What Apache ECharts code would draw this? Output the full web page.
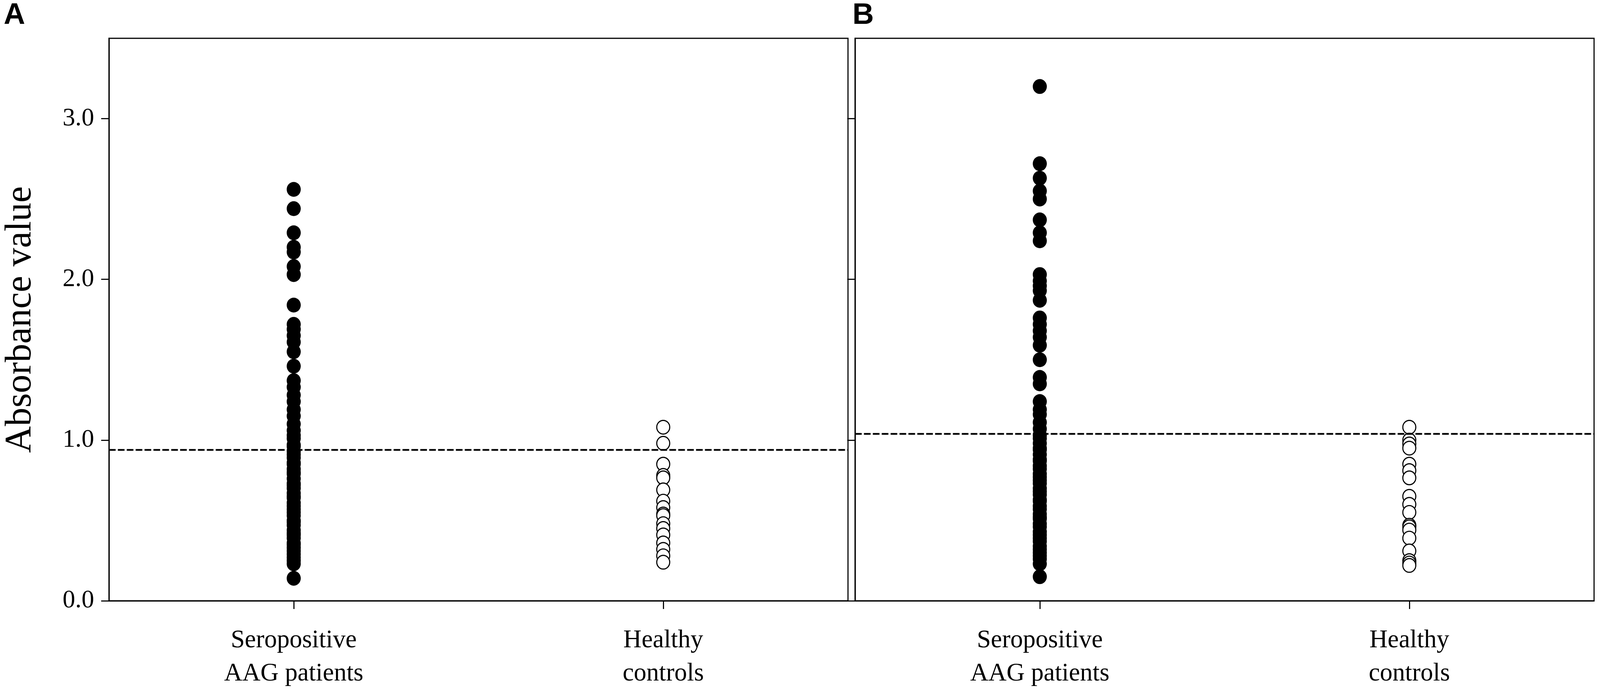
<!DOCTYPE html>
<html>
<head>
<meta charset="utf-8">
<script src="https://cdn.jsdelivr.net/npm/echarts@6/dist/echarts.min.js"></script>
<style>
html,body{margin:0;padding:0;background:#fff;overflow:hidden;}
#chart{width:100vw;height:100vh;}
</style>
</head>
<body>
<div id="chart"></div>
<script>
// ---- data ----
const categories = ['Seropositive\nAAG patients', 'Healthy\ncontrols'];
const yTickValues = [0, 1, 2, 3];
const panelLabels = ['A', 'B'];
const yAxisTitle = 'Absorbance value';

const cutoffA = 0.944;
const cutoffB = 1.04;

const seroA = [2.56, 2.44, 2.29, 2.20, 2.17, 2.08, 2.03, 1.84, 1.72, 1.69, 1.65, 1.61,
  1.55, 1.46, 1.37, 1.33, 1.28, 1.24, 1.19, 1.15, 1.10, 1.06,
  1.03, 1.01, 0.97, 0.96, 0.93, 0.91, 0.89, 0.86, 0.85, 0.82, 0.80, 0.79, 0.76, 0.73,
  0.72, 0.70, 0.67, 0.65, 0.64, 0.61, 0.59, 0.57, 0.55, 0.53, 0.50, 0.49, 0.47, 0.44,
  0.42, 0.41, 0.39, 0.36, 0.35, 0.33, 0.31, 0.29, 0.27, 0.25, 0.23, 0.14];

const healthyA = [1.08, 0.98, 0.85, 0.78, 0.765, 0.69, 0.62, 0.58, 0.54, 0.53, 0.48,
  0.45, 0.41, 0.36, 0.32, 0.28, 0.24];

const seroB = [3.20, 2.72, 2.63, 2.55, 2.50, 2.37, 2.29, 2.24, 2.03, 1.99, 1.96, 1.93,
  1.87, 1.76, 1.72, 1.68, 1.64, 1.59, 1.50, 1.39, 1.35, 1.24, 1.19, 1.16, 1.11, 1.07,
  1.03, 1.01, 0.98, 0.95, 0.94, 0.91, 0.88, 0.87, 0.84, 0.82, 0.79, 0.77, 0.75, 0.73,
  0.70, 0.68, 0.66, 0.63, 0.62, 0.59, 0.57, 0.54, 0.52, 0.51, 0.48, 0.46, 0.43, 0.41,
  0.39, 0.37, 0.34, 0.32, 0.30, 0.28, 0.26, 0.23, 0.15];

const healthyB = [1.08, 1.00, 0.976, 0.95, 0.85, 0.81, 0.765, 0.65, 0.60, 0.55, 0.47,
  0.46, 0.44, 0.39, 0.31, 0.25, 0.235, 0.22];

// ---- chart ----
const el = document.getElementById('chart');
const W = el.clientWidth || window.innerWidth;
const H = el.clientHeight || window.innerHeight;
// layout was measured on a 4317 x 1778 canvas; scale to the real viewport
const sx = W / 4317, sy = H / 1778;
const s = Math.min(sx, sy);
const px = v => v * sx;
const py = v => v * sy;
const ps = v => v * s;
const serif = 'Liberation Serif';
const chart = echarts.init(el);

function pairs(cat, vals) { return vals.map(v => [cat, v]); }

function xAxisCfg(idx) {
  return {
    type: 'category', gridIndex: idx, data: categories, boundaryGap: true,
    axisLine: { show: true, lineStyle: { color: '#000', width: ps(3) } },
    axisTick: { show: true, alignWithLabel: true, length: py(21), lineStyle: { color: '#000', width: ps(3) } },
    axisLabel: { color: '#000', fontFamily: serif, fontSize: ps(68), lineHeight: py(85), margin: py(60) },
    splitLine: { show: false }
  };
}
function yAxisCfg(idx, showLabels) {
  const cfg = {
    type: 'value', gridIndex: idx, min: 0, max: 3.5, interval: 1,
    axisLine: { show: true, lineStyle: { color: '#000', width: ps(3) } },
    axisTick: { show: true, length: px(21), customValues: yTickValues, lineStyle: { color: '#000', width: ps(3) } },
    axisLabel: { show: showLabels, customValues: yTickValues, color: '#000', fontFamily: serif,
      fontSize: ps(68), margin: px(40), formatter: v => v.toFixed(1) },
    splitLine: { show: false }
  };
  if (showLabels) {
    cfg.name = yAxisTitle;
    cfg.nameLocation = 'middle';
    cfg.nameGap = px(188);
    cfg.nameTextStyle = { color: '#000', fontFamily: serif, fontSize: ps(100) };
  }
  return cfg;
}
function cutoffLine(v) {
  return {
    silent: true, symbol: 'none', label: { show: false },
    lineStyle: { color: '#000', width: ps(4.5), type: [px(18), px(6)], opacity: 1 },
    data: [{ yAxis: v }]
  };
}
const filled = { symbol: 'circle', symbolSize: [px(38), py(38)], itemStyle: { color: '#000', opacity: 1 } };
const open = { symbol: 'circle', symbolSize: [px(35), py(35)], itemStyle: { color: '#fff', borderColor: '#000', borderWidth: ps(3), opacity: 1 } };

chart.setOption({
  backgroundColor: '#fff',
  animation: false,
  grid: [
    { left: px(294), right: px(2029), top: py(98), bottom: py(241), show: true, borderColor: '#000', borderWidth: ps(3) },
    { left: px(2307), right: px(16), top: py(98), bottom: py(241), show: true, borderColor: '#000', borderWidth: ps(3) }
  ],
  xAxis: [xAxisCfg(0), xAxisCfg(1)],
  yAxis: [yAxisCfg(0, true), yAxisCfg(1, false)],
  graphic: [
    { type: 'text', left: px(10), top: py(2), style: { text: panelLabels[0], fontFamily: 'Liberation Sans', fontWeight: 'bold', fontSize: ps(80), fill: '#000' } },
    { type: 'text', left: px(2300), top: py(2), style: { text: panelLabels[1], fontFamily: 'Liberation Sans', fontWeight: 'bold', fontSize: ps(80), fill: '#000' } }
  ],
  series: [
    Object.assign({ type: 'scatter', xAxisIndex: 0, yAxisIndex: 0, data: pairs(categories[0], seroA), markLine: cutoffLine(cutoffA) }, filled),
    Object.assign({ type: 'scatter', xAxisIndex: 0, yAxisIndex: 0, data: pairs(categories[1], healthyA) }, open),
    Object.assign({ type: 'scatter', xAxisIndex: 1, yAxisIndex: 1, data: pairs(categories[0], seroB), markLine: cutoffLine(cutoffB) }, filled),
    Object.assign({ type: 'scatter', xAxisIndex: 1, yAxisIndex: 1, data: pairs(categories[1], healthyB) }, open)
  ]
});
</script>
</body>
</html>
